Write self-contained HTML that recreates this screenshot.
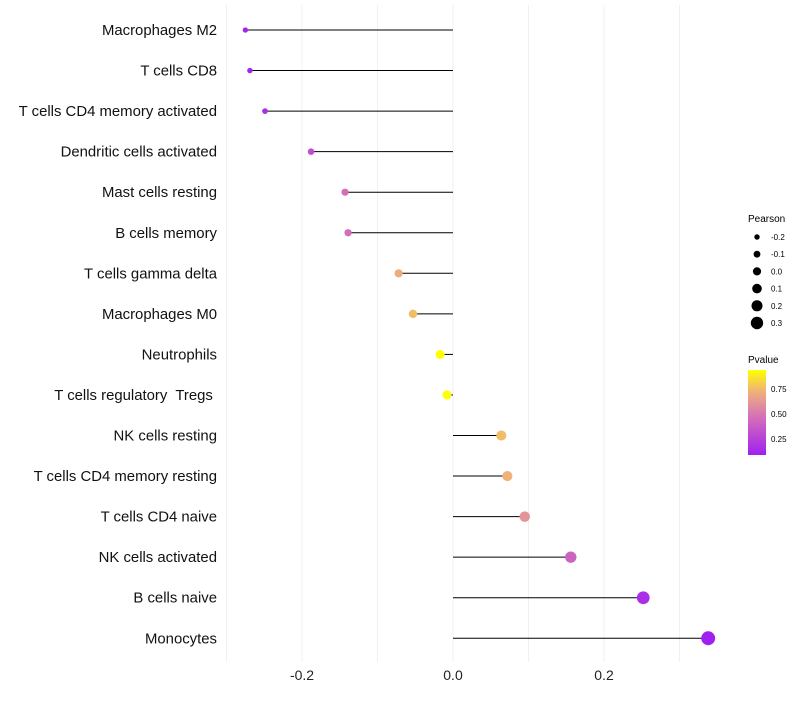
<!DOCTYPE html>
<html><head><meta charset="utf-8"><style>
body{margin:0;background:#fff;font-family:"Liberation Sans",sans-serif;}
svg text{font-family:"Liberation Sans",sans-serif;white-space:pre;}
</style></head><body>
<svg id="chart" width="800" height="700">
<defs><linearGradient id="pg" x1="0" y1="1" x2="0" y2="0">
<stop offset="0" stop-color="#A020F0"/><stop offset="0.45" stop-color="#D670B8"/><stop offset="0.75" stop-color="#EFB27A"/><stop offset="1" stop-color="#FFFF00"/></linearGradient></defs>
<g id="grid"></g><g id="marks"></g><g id="axes"></g>
<g>
<text x="748" y="222" font-size="10">Pearson</text>
<g id="sizeLegend"></g>
<text x="748" y="363" font-size="10">Pvalue</text>
<rect x="748" y="370" width="18" height="85" fill="url(#pg)"/>
<text x="771" y="392" font-size="8">0.75</text>
<text x="771" y="417" font-size="8">0.50</text>
<text x="771" y="442" font-size="8">0.25</text>
</g>
</svg>
<script>
const categories=["Macrophages M2","T cells CD8","T cells CD4 memory activated","Dendritic cells activated","Mast cells resting","B cells memory","T cells gamma delta","Macrophages M0","Neutrophils","T cells regulatory  Tregs ","NK cells resting","T cells CD4 memory resting","T cells CD4 naive","NK cells activated","B cells naive","Monocytes"];
const pearson=[-0.275,-0.269,-0.249,-0.188,-0.143,-0.139,-0.072,-0.053,-0.017,-0.008,0.064,0.072,0.095,0.156,0.252,0.338];
const pvalue=[0.1,0.1,0.15,0.3,0.45,0.45,0.7,0.75,0.93,0.95,0.75,0.72,0.6,0.4,0.15,0.08];
const xTicks=[-0.2,0.0,0.2];
const sizeLegend=[-0.2,-0.1,0.0,0.1,0.2,0.3];
const NS="http://www.w3.org/2000/svg";
const x=v=>453+v*755;
const y=i=>30+i*40.55;
const r=v=>4.6+7*v;
function lerp(a,b,t){return a.map((c,k)=>Math.round(c+(b[k]-c)*t));}
const stops=[[0,[160,32,240]],[0.45,[214,112,184]],[0.75,[239,178,122]],[1,[255,255,0]]];
function col(p){let t=Math.max(0,Math.min(1,(p-0.08)/0.85));for(let k=1;k<stops.length;k++){if(t<=stops[k][0]){const a=stops[k-1],b=stops[k];const c=lerp(a[1],b[1],(t-a[0])/(b[0]-a[0]));return `rgb(${c})`;}}return "rgb(255,255,0)";}
function mk(tag,attrs,parent){const e=document.createElementNS(NS,tag);for(const k in attrs)e.setAttribute(k,attrs[k]);parent.appendChild(e);return e;}
const grid=document.getElementById('grid'),marks=document.getElementById('marks'),axes=document.getElementById('axes');
[-0.3,-0.2,-0.1,0,0.1,0.2,0.3].forEach(v=>{const l=mk('line',{x1:x(v),x2:x(v),y1:5,y2:662,stroke:'#f0f0f0','stroke-width':1},grid);

});
xTicks.forEach(v=>{const t=mk('text',{x:x(v),y:680,'font-size':14,'text-anchor':'middle',fill:'#222'},axes);t.textContent=v.toFixed(1);

});
categories.forEach((c,i)=>{const t=mk('text',{x:217,y:y(i)+5,'font-size':14.9,'text-anchor':'end',fill:'#111'},axes);t.textContent=c;


const l=mk('line',{x1:x(0),x2:x(pearson[i]),y1:y(i),y2:y(i),stroke:'#000','stroke-width':1},marks);


const p=mk('circle',{cx:x(pearson[i]),cy:y(i),r:r(pearson[i]),fill:col(pvalue[i])},marks);

});
const sl=document.getElementById('sizeLegend');
sizeLegend.forEach((v,k)=>{const cy=237+k*17.2;const c=mk('circle',{cx:757,cy:cy,r:r(v)-0.5,fill:'#000'},sl);


const t=mk('text',{x:771,y:cy+3,'font-size':8},sl);t.textContent=v.toFixed(1);

});
</script>
</body></html>
